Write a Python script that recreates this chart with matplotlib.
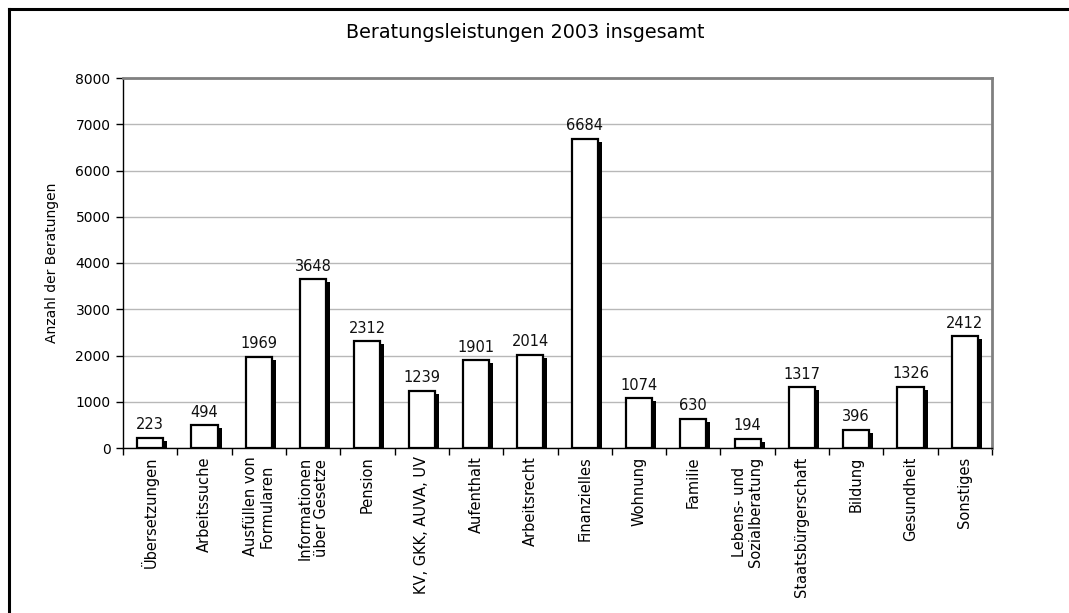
import matplotlib
matplotlib.use("Agg")
import matplotlib.pyplot as plt
import matplotlib.transforms as mtransforms
from matplotlib.lines import Line2D

categories = ["Übersetzungen", "Arbeitssuche", "Ausfüllen von\nFormularen",
              "Informationen\nüber Gesetze", "Pension", "KV, GKK, AUVA, UV",
              "Aufenthalt", "Arbeitsrecht", "Finanzielles", "Wohnung", "Familie",
              "Lebens- und\nSozialberatung", "Staatsbürgerschaft", "Bildung",
              "Gesundheit", "Sonstiges"]
values = [223, 494, 1969, 3648, 2312, 1239, 1901, 2014, 6684, 1074, 630,
          194, 1317, 396, 1326, 2412]
yticks = [0, 1000, 2000, 3000, 4000, 5000, 6000, 7000, 8000]

plt.rcParams['font.family'] = ['DejaVu Sans']
fig = plt.figure(figsize=(10.69, 6.13), dpi=100)
W, H = 1069, 613
ax = fig.add_axes([123 / W, 1 - 448 / H, (992 - 123) / W, (448 - 78) / H])

x = list(range(len(categories)))
bw = 0.48
shadow = mtransforms.offset_copy(ax.transData, fig=fig, x=4, y=-3, units='dots')
ax.bar(x, values, width=bw, color='black', edgecolor='black', linewidth=0,
       transform=shadow, zorder=2)
ax.bar(x, values, width=bw, color='white', edgecolor='black', linewidth=1.6, zorder=3)
for xi, v in zip(x, values):
    ax.annotate(str(v), (xi, v), xytext=(0, 4), textcoords='offset points',
                ha='center', va='bottom', fontsize=10.5, color='#111111')

ax.set_xlim(-0.5, len(categories) - 0.5)
ax.set_ylim(0, 8000)
ax.set_yticks(yticks)
ax.set_yticklabels([str(t) for t in yticks], fontsize=10)
ax.yaxis.grid(True, color='#b8b8b8', linewidth=1)
ax.set_axisbelow(True)
ax.tick_params(axis='y', direction='out', length=5, width=1, pad=4)

ax.set_xticks(x)
ax.set_xticklabels(categories, rotation=90, fontsize=10.5, ha='center', va='top',
                   multialignment='center', linespacing=1.15)
ax.tick_params(axis='x', which='major', length=0, pad=6)
ax.set_xticks([i - 0.5 for i in range(len(categories) + 1)], minor=True)
ax.tick_params(axis='x', which='minor', direction='out', length=5, width=1)

for s in ['top', 'right']:
    ax.spines[s].set_color('#808080')
    ax.spines[s].set_linewidth(2)
ax.spines['left'].set_color('black')
ax.spines['bottom'].set_color('black')
ax.spines['left'].set_linewidth(1)
ax.spines['bottom'].set_linewidth(1)

ax.set_ylabel("Anzahl der Beratungen", fontsize=10, labelpad=12)
fig.text(525 / W, 1 - 33 / H, "Beratungsleistungen 2003 insgesamt",
         ha='center', va='center', fontsize=13.8)

fig.add_artist(Line2D([8.5 / W, 8.5 / W], [0, 1 - 8.5 / H], transform=fig.transFigure,
                      color='black', linewidth=2.2))
fig.add_artist(Line2D([8.5 / W, 1], [1 - 8.5 / H, 1 - 8.5 / H], transform=fig.transFigure,
                      color='black', linewidth=2.2))

fig.savefig("out.png", dpi=100)
